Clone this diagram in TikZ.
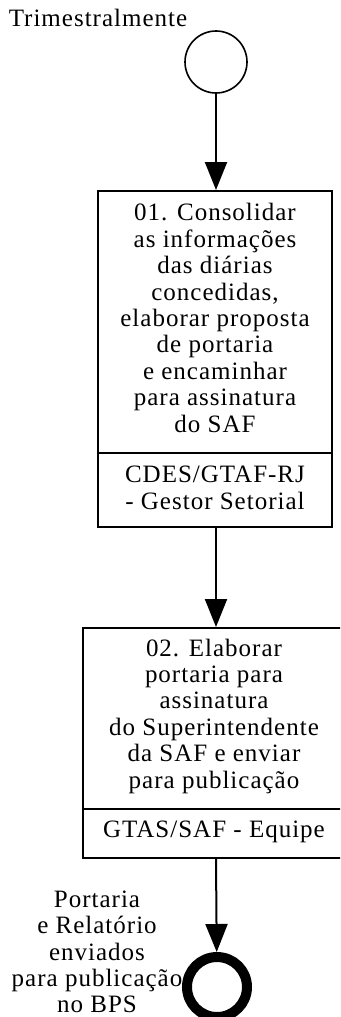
\documentclass[tikz,border=0pt]{standalone}
\usepackage{fontspec}
\setmainfont[LetterSpace=4]{Liberation Serif}
\usetikzlibrary{arrows.meta}
\begin{document}
\begin{tikzpicture}[x=1pt,y=-1pt,
  lbl/.style={inner sep=0pt,align=center,font=\fontsize{25}{26.4}\selectfont},
  taskbox/.style={draw,line width=2pt,rectangle,inner sep=0pt},
  flow/.style={line width=2pt,-{Triangle[length=28pt,width=22pt]}}]
\clip (0,0) rectangle (340,1017);
\useasboundingbox (0,0) rectangle (340,1017);
% start event
\node[draw,circle,line width=1.6pt,minimum size=62pt,inner sep=0pt] (s) at (216,62) {};
\node[lbl,anchor=base] (slbl) at (98,27) {Trimestralmente};
% task 1
\node[taskbox,minimum width=234pt,minimum height=336pt] (b1) at (215,359) {};
\coordinate (d1l) at (98,453);
\coordinate (d1r) at (332,453);
\draw[line width=2pt] (d1l) -- (d1r);
\node[lbl] (t1) at (215,318) {01. Consolidar\\as informações\\das diárias\\concedidas,\\elaborar proposta\\de portaria\\e encaminhar\\para assinatura\\do SAF};
\node[lbl] (r1) at (215,488) {CDES/GTAF-RJ\\- Gestor Setorial};
% task 2
\node[taskbox,minimum width=266pt,minimum height=230pt] (b2) at (216,743) {};
\coordinate (d2l) at (83,809);
\coordinate (d2r) at (349,809);
\draw[line width=2pt] (d2l) -- (d2r);
\node[lbl] (t2) at (214,716) {02. Elaborar\\portaria para\\assinatura\\do Superintendente\\da SAF e enviar\\para publicação};
\node[lbl] (r2) at (214,832) {GTAS/SAF - Equipe};
% end event
\node[draw,circle,line width=10pt,minimum size=60pt,inner sep=0pt] (e) at (217,987) {};
\node[lbl] (elbl) at (97,952) {Portaria\\e Relatório\\enviados\\para publicação\\no BPS};
% flows
\draw[flow] (s) -- (b1.north -| s);
\draw[flow] (b1.south -| s) -- (b2.north -| s);
\draw[flow] (b2.south -| s) -- (e);
\end{tikzpicture}
\end{document}
